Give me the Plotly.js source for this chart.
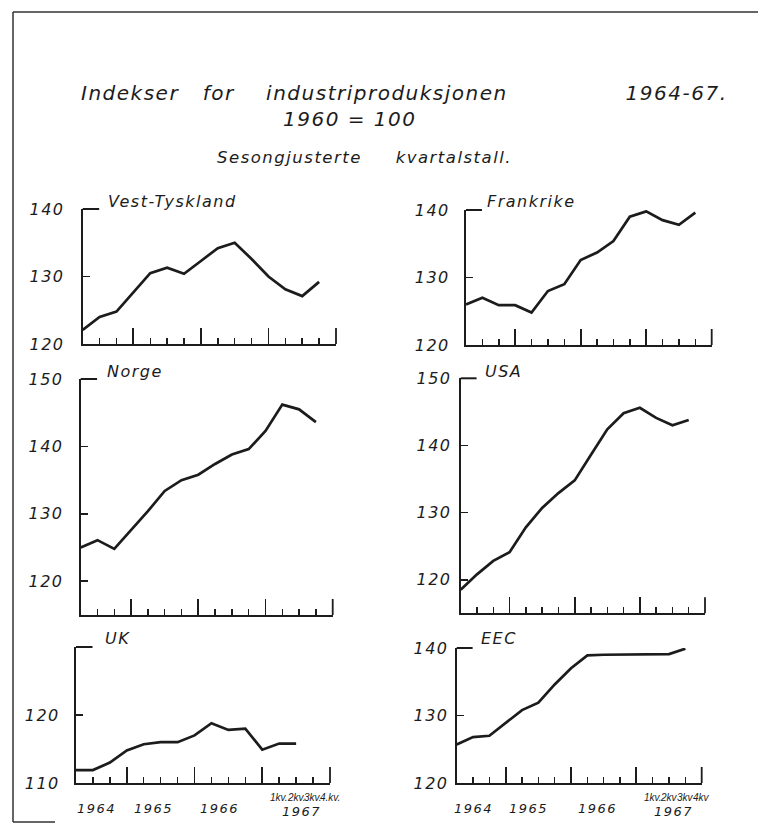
<!DOCTYPE html>
<html>
<head>
<meta charset="utf-8">
<script src="https://cdn.plot.ly/plotly-3.0.1.min.js"></script>
<style>
  html, body { margin: 0; padding: 0; background: #fff; }
  #chart { width: 758px; height: 827px; }
  text[style*="DejaVu"] { letter-spacing: 1.5px; }
</style>
</head>
<body>
<div id="chart"></div>
<script>
// Quarters 1964-1967 (axis positions)
const quarters = ['1964 1kv','1964 2kv','1964 3kv','1964 4kv',
                  '1965 1kv','1965 2kv','1965 3kv','1965 4kv',
                  '1966 1kv','1966 2kv','1966 3kv','1966 4kv',
                  '1967 1kv','1967 2kv','1967 3kv','1967 4kv'];

// Seasonally adjusted quarterly index, 1960 = 100
const vestTyskland = [122.1, 124.0, 124.8, 127.6, 130.5, 131.3, 130.4, 132.3, 134.2, 135.0, 132.6, 130.0, 128.1, 127.1, 129.2];
const frankrike    = [126.0, 127.0, 125.9, 125.9, 124.8, 128.0, 129.0, 132.6, 133.7, 135.4, 139.0, 139.8, 138.5, 137.8, 139.6];
const norge        = [125.0, 126.1, 124.8, 127.6, 130.4, 133.4, 135.0, 135.8, 137.4, 138.8, 139.6, 142.3, 146.2, 145.5, 143.6];
const usa          = [118.5, 120.8, 122.8, 124.1, 127.8, 130.7, 132.9, 134.8, 138.6, 142.4, 144.8, 145.6, 144.1, 143.0, 143.8];
const uk           = [111.9, 111.9, 113.0, 114.8, 115.7, 116.0, 116.0, 117.0, 118.8, 117.8, 118.0, 114.9, 115.8, 115.8];
const eec          = [125.7, 126.8, 127.0, 128.9, 130.8, 131.9, 134.6, 137.0, 138.9, 139.0, 139.0, 139.0, 139.0, 139.1, 139.9];

const panelNames = ['Vest-Tyskland', 'Frankrike', 'Norge', 'USA', 'UK', 'EEC'];
const panelSeries = [vestTyskland, frankrike, norge, usa, uk, eec];

// y tick values per panel
const yTicks = [[120,130,140],[120,130,140],[120,130,140,150],[120,130,140,150],[110,120],[120,130,140]];
const yRanges = [[120,140],[120,140],[115,150],[115,150],[110,130],[120,140]];

// x-axis text under bottom panels
const yearLabels = ['1964','1965','1966'];
const yearLabelAtUK  = [1.2, 4.6, 8.5];
const yearLabelAtEEC = [1.05, 4.4, 8.6];
const lastYear = '1967';
const lastYearAt = 13.3;
const kvLabelsUK  = ['1kv.','2kv.','3kv.','4.kv.'];
const kvLabelsEEC = ['1kv.','2kv','3kv','4kv'];
const kvAt = [12, 13, 14, 15];

const W = 758, H = 827;
const px = v => v / W;
const py = v => 1 - v / H;

// panel frames in pixels: [left, right, bottom, top]
const frames = [
  [82.7, 336, 344, 209],
  [466, 711.7, 345, 210],
  [80.7, 332.7, 615, 379],
  [460.7, 705, 613.3, 378.3],
  [76, 330, 783, 647],
  [456.7, 701.7, 783, 648]
];
const standoff = [13, 11, 12, 4, 11, 3];
const titlePos = [[106, 201.7],[485, 201.7],[105, 371.7],[483, 371.7],[103, 638],[479, 638]];

const INK = '#1c1c1c';
const FONT = 'DejaVu Sans, sans-serif';

const traces = [];
const layout = {
  width: W, height: H, autosize: false,
  margin: {l: 0, r: 0, t: 0, b: 0},
  paper_bgcolor: '#ffffff', plot_bgcolor: '#ffffff',
  showlegend: false,
  font: {family: FONT, color: INK},
  annotations: [],
  shapes: []
};

panelSeries.forEach((series, k) => {
  const n = k + 1;
  const xa = n === 1 ? 'xaxis' : 'xaxis' + n;
  const ya = n === 1 ? 'yaxis' : 'yaxis' + n;
  const xr = n === 1 ? 'x' : 'x' + n;
  const yr = n === 1 ? 'y' : 'y' + n;
  const f = frames[k];

  traces.push({
    type: 'scatter', mode: 'lines',
    x: series.map((v, i) => quarters.indexOf(quarters[i])),
    y: series,
    name: panelNames[k],
    xaxis: xr, yaxis: yr,
    line: {color: INK, width: 2.7},
    hoverinfo: 'x+y'
  });

  layout[xa] = {
    domain: [px(f[0]), px(f[1])],
    anchor: yr,
    range: [0, quarters.length - 1],
    showline: true, linewidth: 2, linecolor: INK,
    showgrid: false, zeroline: false,
    ticks: 'inside', tickvals: [3, 7, 11, 15], ticklen: 16, tickwidth: 1.8, tickcolor: INK,
    showticklabels: false,
    minor: {ticks: 'inside', tickvals: [1,2,4,5,6,8,9,10,12,13,14], ticklen: 6, tickwidth: 1.5, tickcolor: INK, showgrid: false}
  };
  layout[ya] = {
    domain: [py(f[2]), py(f[3])],
    anchor: xr,
    range: yRanges[k],
    showline: true, linewidth: 2, linecolor: INK,
    showgrid: false, zeroline: false,
    ticks: 'inside', tickvals: yTicks[k], ticklen: 7, tickwidth: 1.8, tickcolor: INK,
    ticklabelstandoff: standoff[k],
    tickfont: {family: FONT, size: 16, style: 'italic', color: INK}
  };

  // short stub at top of the y axis
  layout.shapes.push({
    type: 'line', xref: xr + ' domain', yref: yr + ' domain',
    x0: 0, x1: 0.065, y0: 1, y1: 1,
    line: {color: INK, width: 2}
  });
  // closing tick at the right end of the x axis
  layout.shapes.push({
    type: 'line', xref: xr + ' domain', yref: yr + ' domain',
    ysizemode: 'pixel', yanchor: 0,
    x0: 1, x1: 1, y0: 0, y1: 16,
    line: {color: INK, width: 1.8}
  });

  layout.annotations.push({
    text: panelNames[k], xref: 'paper', yref: 'paper',
    x: px(titlePos[k][0]), y: py(titlePos[k][1]),
    xanchor: 'left', yanchor: 'middle', showarrow: false,
    font: {family: FONT, size: 16, style: 'italic', color: INK}
  });
});

// year labels under the bottom panels
[[5, yearLabelAtUK, kvLabelsUK], [6, yearLabelAtEEC, kvLabelsEEC]].forEach(([n, at, kv]) => {
  yearLabels.forEach((t, i) => {
    layout.annotations.push({
      text: t, xref: 'x' + n, yref: 'paper', x: at[i], y: py(808),
      xanchor: 'center', yanchor: 'middle', showarrow: false,
      font: {family: FONT, size: 13, style: 'italic', color: INK}
    });
  });
  layout.annotations.push({
    text: lastYear, xref: 'x' + n, yref: 'paper', x: lastYearAt, y: py(811),
    xanchor: 'center', yanchor: 'middle', showarrow: false,
    font: {family: FONT, size: 13, style: 'italic', color: INK}
  });
  kv.forEach((t, i) => {
    layout.annotations.push({
      text: t, xref: 'x' + n, yref: 'paper', x: kvAt[i], y: py(797),
      xanchor: 'center', yanchor: 'middle', showarrow: false,
      font: {family: 'Liberation Sans, sans-serif', size: 10, style: 'italic', color: INK}
    });
  });
});

// main titles
const NB = '\u00a0';
layout.annotations.push({
  text: 'Indekser' + NB.repeat(3) + 'for' + NB.repeat(4) + 'industriproduksjonen' + NB.repeat(15) + '1964-67.',
  xref: 'paper', yref: 'paper', x: px(79), y: py(93),
  xanchor: 'left', yanchor: 'middle', showarrow: false,
  font: {family: FONT, size: 20, style: 'italic', color: INK}
});
layout.annotations.push({
  text: '1960' + NB + '=' + NB + '100',
  xref: 'paper', yref: 'paper', x: px(350), y: py(119),
  xanchor: 'center', yanchor: 'middle', showarrow: false,
  font: {family: FONT, size: 20, style: 'italic', color: INK}
});
layout.annotations.push({
  text: 'Sesongjusterte' + NB.repeat(5) + 'kvartalstall.',
  xref: 'paper', yref: 'paper', x: px(364), y: py(157),
  xanchor: 'center', yanchor: 'middle', showarrow: false,
  font: {family: FONT, size: 16.5, style: 'italic', color: INK}
});

// page frame
layout.shapes.push(
  {type: 'line', xref: 'paper', yref: 'paper', x0: px(13), x1: px(13), y0: py(822), y1: py(12), line: {color: '#333', width: 1.5}},
  {type: 'line', xref: 'paper', yref: 'paper', x0: px(13), x1: 1, y0: py(12), y1: py(12), line: {color: '#333', width: 1.5}},
  {type: 'line', xref: 'paper', yref: 'paper', x0: px(13), x1: px(55), y0: py(822), y1: py(822), line: {color: '#333', width: 1.5}}
);

Plotly.newPlot('chart', traces, layout, {displayModeBar: false, staticPlot: true});
</script>
</body>
</html>
